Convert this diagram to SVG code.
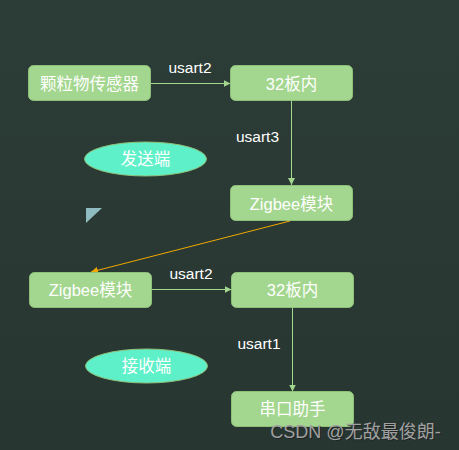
<svg xmlns="http://www.w3.org/2000/svg" width="459" height="450" viewBox="0 0 459 450">
<defs>
<linearGradient id="bg" x1="0" y1="0" x2="0" y2="1"><stop offset="0" stop-color="#2c3c36"/><stop offset="1" stop-color="#283632"/></linearGradient>
<marker id="ag" viewBox="0 0 10 10" refX="10" refY="5" markerWidth="7" markerHeight="7" markerUnits="userSpaceOnUse" orient="auto"><path d="M0,0 L10,5 L0,10 z" fill="#a3d68e"/></marker>
<marker id="ao" viewBox="0 0 10 10" refX="10" refY="5" markerWidth="7" markerHeight="7" markerUnits="userSpaceOnUse" orient="auto"><path d="M0,0 L10,5 L0,10 z" fill="#f0a800"/></marker>
<style>
.n{fill:#a3d68e;stroke:#8fc07a;stroke-width:1}
.e{fill:#5ef0c8;stroke:#8fc07a;stroke-width:1}
.t{font-family:"Liberation Sans","Noto Sans CJK SC",sans-serif;font-size:16.5px;fill:#ffffff;text-anchor:middle;dominant-baseline:central}
.l{font-family:"Liberation Sans","Noto Sans CJK SC",sans-serif;font-size:15.5px;fill:#ffffff;text-anchor:middle;dominant-baseline:central}
.c{stroke:#a3d68e;stroke-width:1;fill:none;marker-end:url(#ag)}
</style>
</defs>
<rect width="459" height="450" fill="url(#bg)"/>
<g id="connectors">
<line class="c" x1="150.5" y1="83.5" x2="230.5" y2="83.5"/>
<line class="c" x1="291.5" y1="101" x2="291.5" y2="185"/>
<line x1="290" y1="221" x2="91" y2="272" stroke="#f0a800" stroke-width="1" marker-end="url(#ao)"/>
<line class="c" x1="151.5" y1="289.5" x2="231.5" y2="289.5"/>
<line class="c" x1="292.5" y1="307.5" x2="292.5" y2="391.5"/>
<text class="l" x="190" y="67">usart2</text>
<text class="l" x="257.5" y="136">usart3</text>
<text class="l" x="191" y="273">usart2</text>
<text class="l" x="259" y="343">usart1</text>
</g>
<g id="n1"><rect class="n" x="28.5" y="65.5" width="122" height="35" rx="5"/><text class="t" x="89.5" y="83.5">颗粒物传感器</text></g>
<g id="n2"><rect class="n" x="230.5" y="65.5" width="122" height="35" rx="5"/><text class="t" x="291.5" y="83.5">32板内</text></g>
<g id="n3"><rect class="n" x="230.5" y="185.5" width="122" height="35" rx="5"/><text class="t" x="291.5" y="203.5">Zigbee模块</text></g>
<g id="e1"><ellipse class="e" cx="145.5" cy="159" rx="61" ry="17"/><text class="t" x="145.5" y="159">发送端</text></g>
<g id="tri"><polygon points="86,208 102,208 86,223" fill="#8fbcc0"/></g>
<g id="n4"><rect class="n" x="29.5" y="272.5" width="122" height="35" rx="5"/><text class="t" x="90.5" y="290">Zigbee模块</text></g>
<g id="n5"><rect class="n" x="231.5" y="272.5" width="122" height="35" rx="5"/><text class="t" x="292.5" y="290">32板内</text></g>
<g id="e2"><ellipse class="e" cx="146.5" cy="366" rx="61" ry="17"/><text class="t" x="146.5" y="366">接收端</text></g>
<g id="n6"><rect class="n" x="231.5" y="391.5" width="122" height="35" rx="5"/><text class="t" x="292.5" y="409">串口助手</text></g>
<text x="356.5" y="439" font-family="'Liberation Sans','Noto Sans CJK SC',sans-serif" font-size="18" fill="#1a1a1a" text-anchor="middle" opacity="0.6">CSDN @无敌最俊朗-</text>
<text x="355.5" y="438" font-family="'Liberation Sans','Noto Sans CJK SC',sans-serif" font-size="18" fill="#a0a0a0" text-anchor="middle">CSDN @无敌最俊朗-</text>
</svg>
